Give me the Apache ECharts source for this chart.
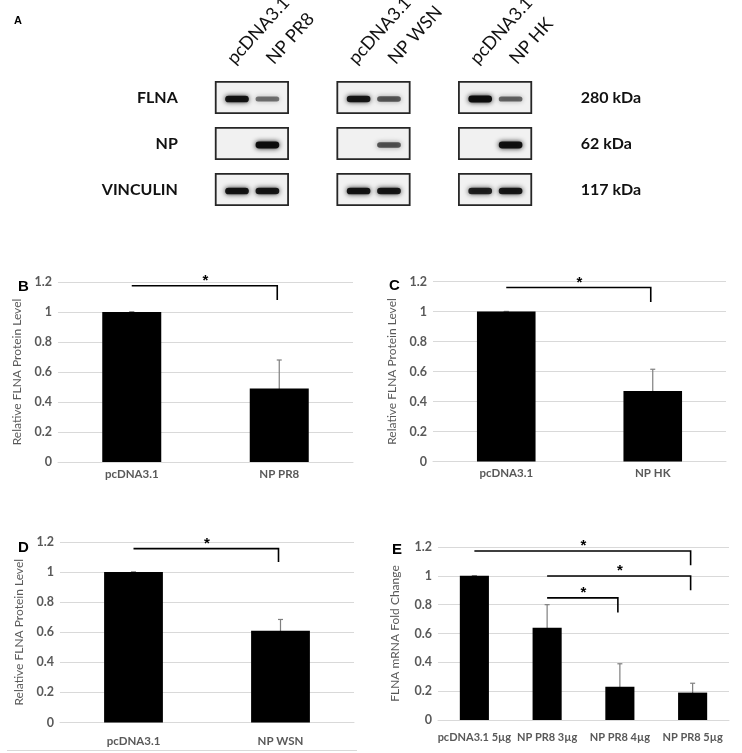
<!DOCTYPE html>
<html>
<head>
<meta charset="utf-8">
<script src="https://cdn.jsdelivr.net/npm/echarts@6/dist/echarts.min.js"></script>
<style>
  html, body { margin: 0; padding: 0; background: #fff; }
  #chart { width: 742px; height: 753px; }
</style>
</head>
<body>
<div id="chart"></div>
<script>
// ---------- Panel A (western blot) ----------
const laneNames = ['pcDNA3.1', 'NP PR8', '', '', 'pcDNA3.1', 'NP WSN', '', '', 'pcDNA3.1', 'NP HK'];
const lanes = [0, 1, 4, 5, 8, 9];
const blotPairs = [[0, 1], [4, 5], [8, 9]];
const blotRows = ['FLNA', 'NP', 'VINCULIN'];
const blotSizes = ['280 kDa', '62 kDa', '117 kDa'];
const flnaBands = [0.92, 0.5, 0.9, 0.6, 0.97, 0.55];
const npBands = [0, 0.97, 0, 0.62, 0, 0.95];
const vinculinBands = [0.92, 0.9, 0.92, 0.9, 0.85, 0.9];

// ---------- Panel B ----------
const catsB = ['pcDNA3.1', 'NP PR8'];
const valsB = [1, 0.49];
const errB = [0, 0.19];
const sigB = [[0, 1, 1.175, 1.08]];
// ---------- Panel C ----------
const catsC = ['pcDNA3.1', 'NP HK'];
const valsC = [1, 0.47];
const errC = [0, 0.145];
const sigC = [[0, 1, 1.16, 1.063]];
// ---------- Panel D ----------
const catsD = ['pcDNA3.1', 'NP WSN'];
const valsD = [1, 0.61];
const errD = [0, 0.075];
const sigD = [[0, 1, 1.156, 1.067]];
// ---------- Panel E ----------
const catsE = ['pcDNA3.1 5µg', 'NP PR8 3µg', 'NP PR8 4µg', 'NP PR8 5µg'];
const valsE = [1, 0.64, 0.23, 0.19];
const errE = [0, 0.16, 0.16, 0.065];
const sigE = [[0, 3, 1.172, 1.073], [1, 3, 0.999, 0.9], [1, 2, 0.847, 0.746]];

const yTicks = { min: 0, max: 1.2, interval: 0.2 };

const chartFont = "Lato, 'Liberation Sans', Arial, sans-serif";
const blotFont = "Lato, 'Open Sans', sans-serif";
const gray = '#595959';

const chart = echarts.init(document.getElementById('chart'), null, { renderer: 'canvas' });

const bandData = [];
[flnaBands, npBands, vinculinBands].forEach((arr, r) => {
  arr.forEach((v, i) => bandData.push([lanes[i], r, v]));
});
const boxData = [];
blotPairs.forEach(p => blotRows.forEach((_, r) => boxData.push([p[0], p[1], r])));
const laneLabelData = lanes.map(l => [l, 0]);

function barPanel(gi, cats, vals, errs, sigs, yName, labelMargin, labelSize) {
  const xAxis = {
    type: 'category', gridIndex: gi, data: cats,
    axisLine: { show: true, lineStyle: { color: '#d9d9d9', width: 1 } },
    axisTick: { show: false },
    axisLabel: { color: gray, fontWeight: 'bold', fontSize: labelSize, fontFamily: chartFont, margin: labelMargin, interval: 0 }
  };
  const yAxis = {
    type: 'value', gridIndex: gi, min: yTicks.min, max: yTicks.max, interval: yTicks.interval,
    axisLine: { show: false }, axisTick: { show: false },
    splitLine: { lineStyle: { color: '#d9d9d9', width: 1 } },
    axisLabel: { color: gray, fontWeight: 'bold', fontSize: 12.5, fontFamily: chartFont, margin: 6 },
    name: yName, nameLocation: 'middle', nameGap: 35,
    nameTextStyle: { color: gray, fontSize: 12, fontFamily: chartFont }
  };
  const series = [
    {
      type: 'bar', xAxisIndex: gi, yAxisIndex: gi, data: vals, barWidth: '40%',
      itemStyle: { color: '#000' }, silent: true, animation: false
    },
    {
      type: 'custom', xAxisIndex: gi, yAxisIndex: gi, clip: false, animation: false,
      data: vals.map((v, i) => [i, v, errs[i]]),
      renderItem: function (params, api) {
        const i = api.value(0), v = api.value(1), e = api.value(2);
        const t = api.coord([i, v + e]);
        const b = api.coord([i, v - e]);
        const cap = 2.5;
        const st = { stroke: '#7f7f7f', lineWidth: 1.2 };
        return {
          type: 'group', children: [
            { type: 'line', shape: { x1: t[0], y1: t[1], x2: b[0], y2: b[1] }, style: st },
            { type: 'line', shape: { x1: t[0] - cap, y1: t[1], x2: t[0] + cap, y2: t[1] }, style: st },
            { type: 'line', shape: { x1: b[0] - cap, y1: b[1], x2: b[0] + cap, y2: b[1] }, style: st }
          ]
        };
      }
    },
    {
      type: 'custom', xAxisIndex: gi, yAxisIndex: gi, clip: false, animation: false,
      data: sigs,
      renderItem: function (params, api) {
        const p0 = api.coord([api.value(0), api.value(2)]);
        const p1 = api.coord([api.value(1), api.value(2)]);
        const pd = api.coord([api.value(1), api.value(3)]);
        return {
          type: 'group', children: [
            { type: 'polyline', shape: { points: [[p0[0], p0[1]], [p1[0] - 2, p1[1]], [pd[0] - 2, pd[1]]] },
              style: { stroke: '#000', lineWidth: 1.6, fill: null } },
            { type: 'text', x: (p0[0] + p1[0]) / 2, y: p0[1] - 5,
              style: { text: '*', fill: '#000', fontSize: 15, fontWeight: 'bold', fontFamily: 'Liberation Sans, Arial', align: 'center', verticalAlign: 'middle' } }
          ]
        };
      }
    }
  ];
  return { xAxis, yAxis, series };
}

const pB = barPanel(0, catsB, valsB, errB, sigB, 'Relative FLNA Protein Level', 6, 11.5);
const pC = barPanel(1, catsC, valsC, errC, sigC, 'Relative FLNA Protein Level', 6, 11.5);
const pD = barPanel(2, catsD, valsD, errD, sigD, 'Relative FLNA Protein Level', 13, 11.5);
const pE = barPanel(3, catsE, valsE, errE, sigE, 'FLNA mRNA Fold Change', 12, 11);
pE.yAxis.nameGap = 37;

const blotGi = 4;
const blotX = {
  type: 'category', gridIndex: blotGi, data: laneNames, show: false
};
const blotYLeft = {
  type: 'category', gridIndex: blotGi, data: blotRows, inverse: true, position: 'left',
  axisLine: { show: false }, axisTick: { show: false }, splitLine: { show: false },
  axisLabel: { color: '#111', fontWeight: 'bold', fontSize: 16, fontFamily: blotFont, margin: 44 }
};
const blotYRight = {
  type: 'category', gridIndex: blotGi, data: blotSizes, inverse: true, position: 'right',
  axisLine: { show: false }, axisTick: { show: false }, splitLine: { show: false },
  axisLabel: { color: '#111', fontWeight: 'bold', fontSize: 16, fontFamily: blotFont, margin: 55, align: 'left' }
};

const blotSeries = [
  {
    type: 'custom', xAxisIndex: 4, yAxisIndex: 4, clip: false, animation: false, z: 1,
    data: boxData,
    renderItem: function (params, api) {
      const p0 = api.coord([api.value(0), api.value(2)]);
      const p1 = api.coord([api.value(1), api.value(2)]);
      const slot = api.size([1, 0])[0];
      const rowH = api.size([0, 1])[1];
      const h = rowH * 0.68;
      return {
        type: 'rect',
        shape: { x: p0[0] - slot * 0.7, y: p0[1] - h / 2, width: p1[0] - p0[0] + slot * 1.38, height: h },
        style: { fill: '#f1f1f1', stroke: '#262626', lineWidth: 1.8 }
      };
    }
  },
  {
    type: 'custom', xAxisIndex: 4, yAxisIndex: 4, clip: false, animation: false, z: 2,
    data: bandData,
    renderItem: function (params, api) {
      const v = api.value(2);
      if (!v) return null;
      const c = api.coord([api.value(0), api.value(1)]);
      const slot = api.size([1, 0])[0];
      const w = slot * 0.78;
      const h = 3 + 4 * v;
      const col = 'rgba(10,10,10,' + Math.min(1, v) + ')';
      return {
        type: 'rect',
        shape: { x: c[0] - w / 2, y: c[1] + 1.5 - h / 2, width: w, height: h, r: h / 2 },
        style: { fill: col, shadowBlur: 5, shadowColor: col }
      };
    }
  },
  {
    type: 'custom', xAxisIndex: 4, yAxisIndex: 4, clip: false, animation: false, z: 3,
    data: laneLabelData,
    renderItem: function (params, api) {
      const lane = api.value(0);
      const c = api.coord([lane, api.value(1)]);
      const rowH = api.size([0, 1])[1];
      const shift = (lane % 4 === 0) ? 0 : 9;
      return {
        type: 'text', x: c[0] + shift, y: c[1] - rowH / 2 - 7, rotation: 48 * Math.PI / 180,
        style: { text: laneNames[lane], x: 0, y: 0, fill: '#111', fontSize: 18, fontFamily: blotFont, align: 'left', verticalAlign: 'bottom' }
      };
    }
  }
];

const titleStyle = { color: '#000', fontWeight: 'bold', fontSize: 15, fontFamily: 'Liberation Sans, Arial, sans-serif' };

const option = {
  animation: false,
  backgroundColor: '#fff',
  title: [
    { text: 'A', left: 9, top: 10, textStyle: Object.assign({}, titleStyle, { fontSize: 11 }) },
    { text: 'B', left: 13, top: 274, textStyle: titleStyle },
    { text: 'C', left: 384, top: 273, textStyle: titleStyle },
    { text: 'D', left: 13, top: 535, textStyle: titleStyle },
    { text: 'E', left: 387, top: 537, textStyle: titleStyle }
  ],
  grid: [
    { left: 58, top: 282, width: 295, height: 180 },
    { left: 433, top: 281.5, width: 293, height: 180 },
    { left: 60, top: 542, width: 294, height: 180.5 },
    { left: 438, top: 547, width: 291, height: 173 },
    { left: 221.8, top: 74.5, width: 304, height: 138 }
  ],
  xAxis: [pB.xAxis, pC.xAxis, pD.xAxis, pE.xAxis, blotX],
  yAxis: [pB.yAxis, pC.yAxis, pD.yAxis, pE.yAxis, blotYLeft, blotYRight],
  series: [].concat(pB.series, pC.series, pD.series, pE.series, blotSeries),
  graphic: [
    { type: 'line', shape: { x1: 7, y1: 750.5, x2: 357, y2: 750.5 }, style: { stroke: '#d9d9d9', lineWidth: 1 } }
  ]
};
chart.setOption(option);
</script>
</body>
</html>
